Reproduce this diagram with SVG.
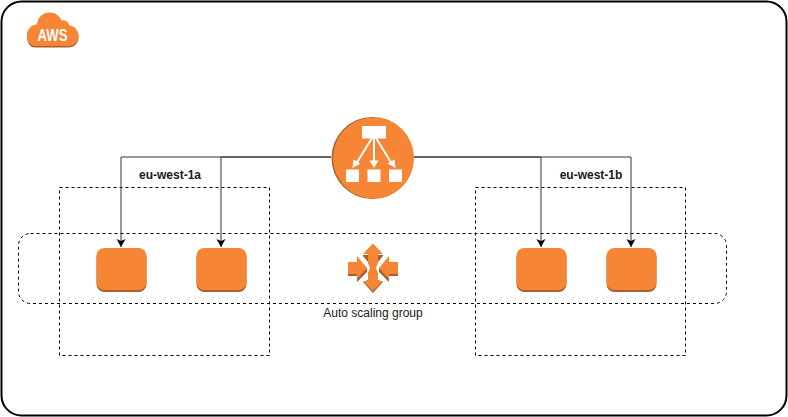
<svg xmlns="http://www.w3.org/2000/svg" width="788" height="417" viewBox="0 0 788 417">
<style>
.d{fill:none;stroke:#000;stroke-width:1;stroke-dasharray:3 3}
.c{fill:none;stroke:#333;stroke-width:1;marker-end:url(#a)}
.o{fill:#f68536}
.s{fill:#a9602f}
.w{fill:#fff}
text{font-family:"Liberation Sans",Arial,sans-serif;font-size:12px;fill:#1a1a1a}
.b{font-weight:700}
</style>
<defs>
<marker id="a" markerWidth="10" markerHeight="10" refX="8" refY="4.500" orient="auto" markerUnits="userSpaceOnUse"><path d="M0 0L8 4.500L0 9L2 4.500Z" fill="#000"/></marker>
<g id="inst"><rect x="0" y="2" width="50" height="42" rx="8" fill="#a9602f"/><rect x="0" y="0" width="50" height="42" rx="8" class="o"/></g>
</defs>
<rect id="frame" x="1.500" y="1.500" width="785" height="414" rx="20" fill="#fff" stroke="#000" stroke-width="2"/>
<g id="aws"><path class="s" d="M35 46h33c6 0 10.500-4 10.500-10s-4-10-9-10.500c-1-4-5-6-8-5-2-5-7-8.500-13-8-7 .5-11 6-11.500 12-5 0-10 4.500-10 10.500 0 6 3 11 8 11z" transform="translate(0 1.500)"/><path class="o" d="M35 46h33c6 0 10.500-4 10.500-10s-4-10-9-10.500c-1-4-5-6-8-5-2-5-7-8.500-13-8-7 .5-11 6-11.500 12-5 0-10 4.500-10 10.500 0 6 3 11 8 11z"/><text x="52.500" y="41" text-anchor="middle" style="font-size:16px;font-weight:700;fill:#fff" textLength="30" lengthAdjust="spacingAndGlyphs">AWS</text></g>
<g id="az-a"><rect class="d" x="59.500" y="187.500" width="210" height="168"/><text class="b" x="170" y="179" text-anchor="middle">eu-west-1a</text></g>
<g id="az-b"><rect class="d" x="475.500" y="187.500" width="210" height="168"/><text class="b" x="591" y="179" text-anchor="middle">eu-west-1b</text></g>
<g id="asg"><rect class="d" x="18.500" y="233.500" width="708" height="70" rx="12"/><text x="373" y="317" text-anchor="middle">Auto scaling group</text></g>
<g id="connectors">
<path class="c" d="M331 157H121V247"/>
<path class="c" d="M331 157H221V247"/>
<path class="c" d="M414 157H541V247"/>
<path class="c" d="M414 157H631V247"/>
</g>
<g id="i1"><use href="#inst" x="96.500" y="248"/></g>
<g id="i2"><use href="#inst" x="196.500" y="248"/></g>
<g id="i3"><use href="#inst" x="516.500" y="248"/></g>
<g id="i4"><use href="#inst" x="606.500" y="248"/></g>
<g id="elb">
<circle cx="372.500" cy="158" r="41" class="s"/><circle cx="373.500" cy="158" r="40.500" class="o"/>
<rect class="w" x="362" y="126" width="24" height="12.500"/>
<rect class="w" x="346" y="169.500" width="13" height="12.500"/><rect class="w" x="367.500" y="169.500" width="13" height="12.500"/><rect class="w" x="389" y="169.500" width="13" height="12.500"/>
<g stroke="#fff" stroke-width="2" fill="none"><path d="M372 138L356 164M374 138V164M376 138L392 164"/></g>
<path class="w" d="M352.500 168L353.500 159.500L360.500 163.500ZM374 168L369.500 160.500H378.500ZM395.500 168L387.500 163.500L394.500 159.500Z"/>
</g>
<g id="scaling">
<path class="s" d="M363 282L373 293L383 282L378 280L373 270L368 280ZM348 274V276H357V282L367 272V268ZM398 274V276H389V282L379 272V268ZM363 255H368V262L363 256ZM383 255H378V262L383 256Z"/>
<path class="o" d="M373 243.500L383 254H378V263L376 268L378 273V281H383L373 291L363 281H368V273L370 268L368 263V254H363Z"/>
<path class="o" d="M348 262H357V256L367 268L357 279V274H348ZM398 262H389V256L379 268L389 279V274H398Z"/>
</g>
</svg>
